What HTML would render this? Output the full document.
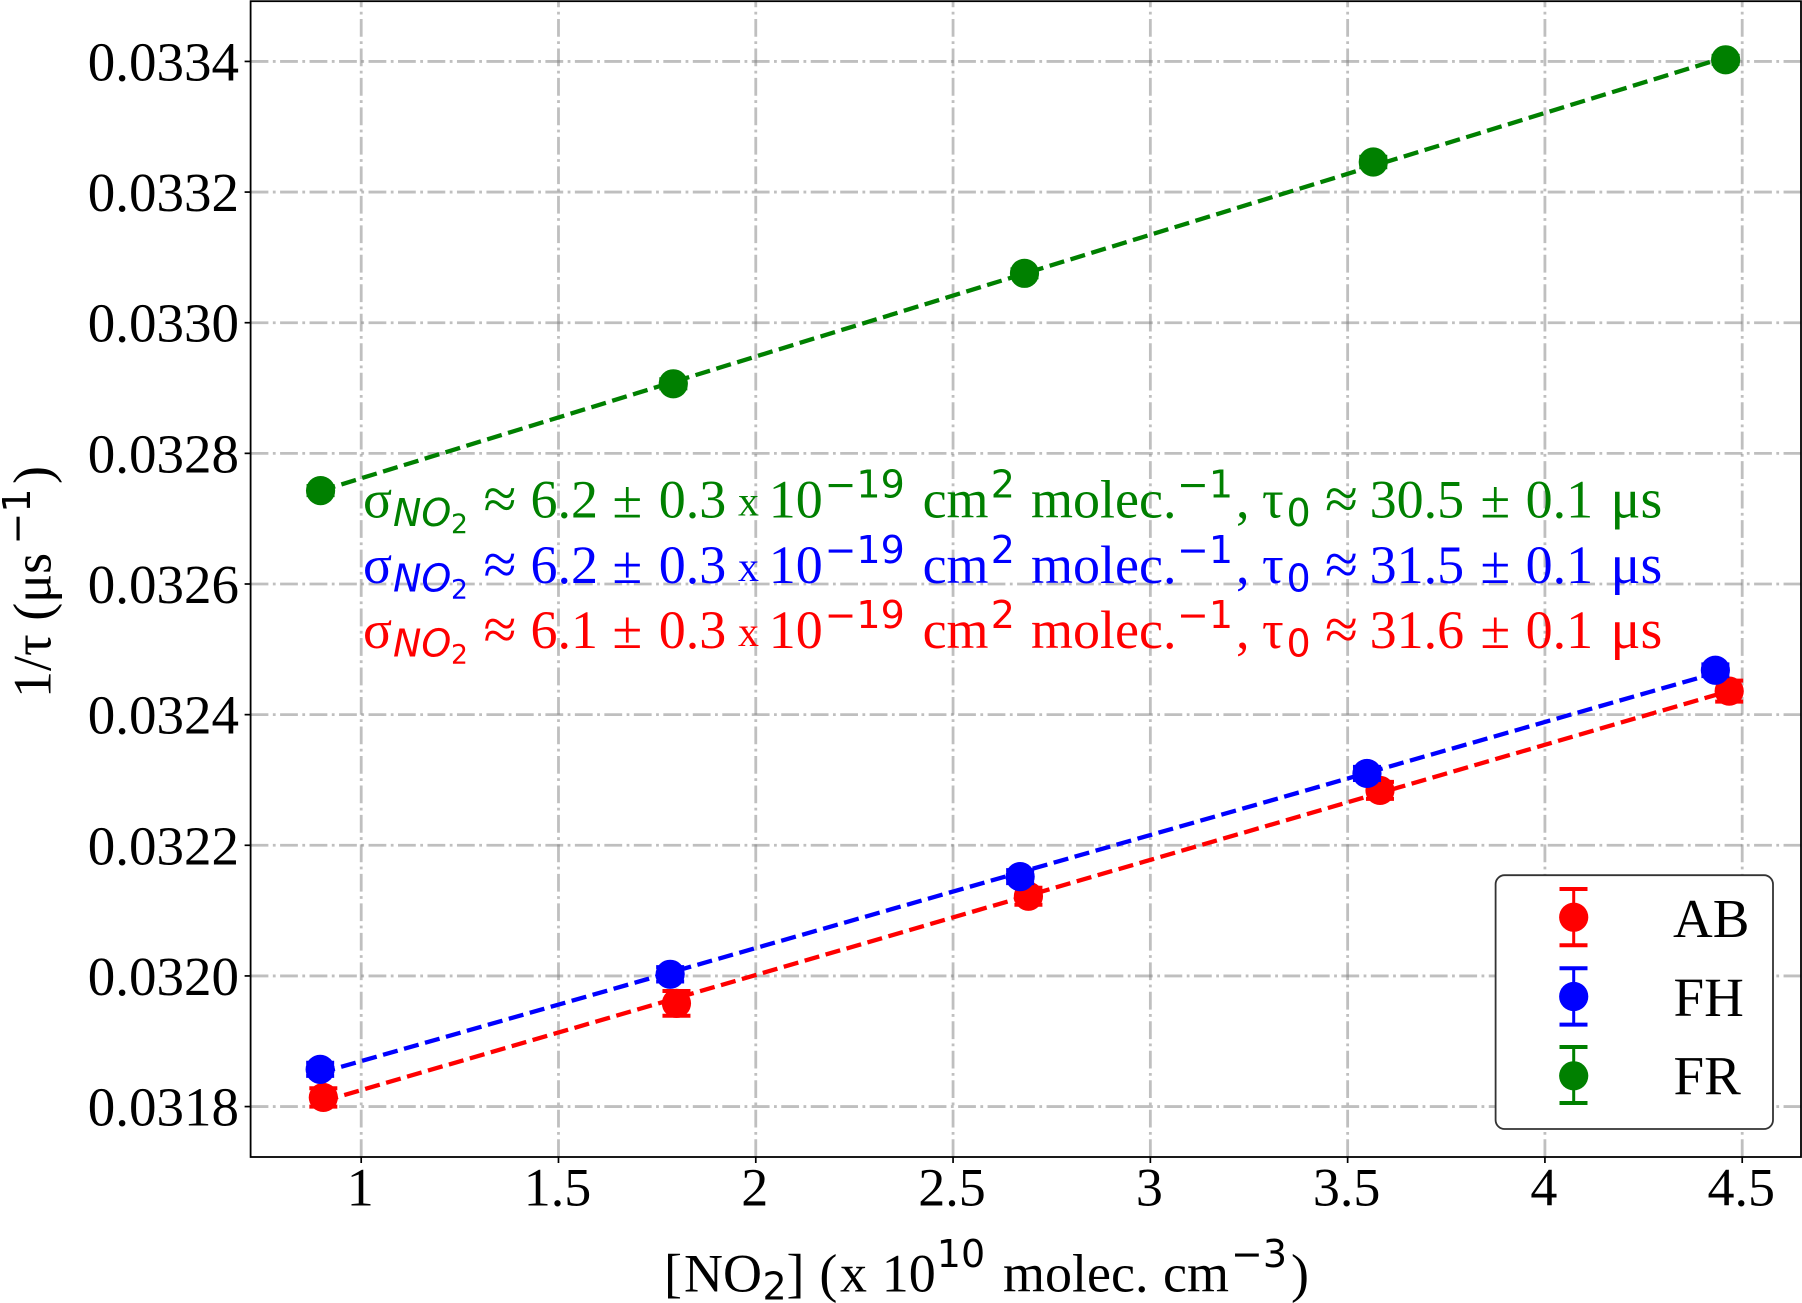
<!DOCTYPE html>
<html lang="en">
<head>
<meta charset="utf-8">
<title>1/tau versus NO2 concentration</title>
<style>
html,body{margin:0;padding:0;background:#fff;}
#chart{display:block;position:absolute;left:0;top:0;}
text{font-family:"Liberation Serif",serif;}
.dj{font-family:"DejaVu Sans",sans-serif;}
</style>
</head>
<body>
<svg id="chart" xmlns="http://www.w3.org/2000/svg" width="1802" height="1303" viewBox="0 0 1802 1303">
  <rect x="0" y="0" width="1802" height="1303" fill="#fff"/>
  <g id="grid"></g>
  <g id="series"></g>
  <g id="annotations" font-size="54">
    <text fill="#008000">
      <tspan x="363" y="517.5">σ</tspan><tspan class="dj" font-style="italic" font-size="38" x="393" y="526">NO</tspan><tspan class="dj" font-size="26.6" x="451" y="533">2</tspan><tspan font-size="60" x="483.5" y="519">≈</tspan><tspan x="530.5" y="517.5">6.2</tspan><tspan x="612.5" y="517.5">±</tspan><tspan x="658.7" y="517.5">0.3</tspan><tspan font-size="42" x="738" y="515.5">x</tspan><tspan x="768.8" y="517.5">10</tspan><tspan class="dj" font-size="38" x="824.6" y="497.5">−19</tspan><tspan x="922.6" y="517.5">cm</tspan><tspan class="dj" font-size="38" x="990.7" y="497.5">2</tspan><tspan x="1031" y="517.5">molec.</tspan><tspan class="dj" font-size="38" x="1177" y="497.5">−1</tspan><tspan x="1236" y="517.5">,</tspan><tspan x="1262" y="517.5">τ</tspan><tspan class="dj" font-size="38" x="1286.5" y="526">0</tspan><tspan font-size="60" x="1325" y="519">≈</tspan><tspan x="1369.6" y="517.5">30.5</tspan><tspan x="1480.5" y="517.5">±</tspan><tspan x="1525.6" y="517.5">0.1</tspan><tspan font-size="56" x="1610.5" y="517.5">μs</tspan>
    </text>
    <text fill="#0000ff">
      <tspan x="363" y="582.8">σ</tspan><tspan class="dj" font-style="italic" font-size="38" x="393" y="591.3">NO</tspan><tspan class="dj" font-size="26.6" x="451" y="598.3">2</tspan><tspan font-size="60" x="483.5" y="584.3">≈</tspan><tspan x="530.5" y="582.8">6.2</tspan><tspan x="612.5" y="582.8">±</tspan><tspan x="658.7" y="582.8">0.3</tspan><tspan font-size="42" x="738" y="580.8">x</tspan><tspan x="768.8" y="582.8">10</tspan><tspan class="dj" font-size="38" x="824.6" y="562.8">−19</tspan><tspan x="922.6" y="582.8">cm</tspan><tspan class="dj" font-size="38" x="990.7" y="562.8">2</tspan><tspan x="1031" y="582.8">molec.</tspan><tspan class="dj" font-size="38" x="1177" y="562.8">−1</tspan><tspan x="1236" y="582.8">,</tspan><tspan x="1262" y="582.8">τ</tspan><tspan class="dj" font-size="38" x="1286.5" y="591.3">0</tspan><tspan font-size="60" x="1325" y="584.3">≈</tspan><tspan x="1369.6" y="582.8">31.5</tspan><tspan x="1480.5" y="582.8">±</tspan><tspan x="1525.6" y="582.8">0.1</tspan><tspan font-size="56" x="1610.5" y="582.8">μs</tspan>
    </text>
    <text fill="#ff0000">
      <tspan x="363" y="648.1">σ</tspan><tspan class="dj" font-style="italic" font-size="38" x="393" y="656.6">NO</tspan><tspan class="dj" font-size="26.6" x="451" y="663.6">2</tspan><tspan font-size="60" x="483.5" y="649.6">≈</tspan><tspan x="530.5" y="648.1">6.1</tspan><tspan x="612.5" y="648.1">±</tspan><tspan x="658.7" y="648.1">0.3</tspan><tspan font-size="42" x="738" y="646.1">x</tspan><tspan x="768.8" y="648.1">10</tspan><tspan class="dj" font-size="38" x="824.6" y="628.1">−19</tspan><tspan x="922.6" y="648.1">cm</tspan><tspan class="dj" font-size="38" x="990.7" y="628.1">2</tspan><tspan x="1031" y="648.1">molec.</tspan><tspan class="dj" font-size="38" x="1177" y="628.1">−1</tspan><tspan x="1236" y="648.1">,</tspan><tspan x="1262" y="648.1">τ</tspan><tspan class="dj" font-size="38" x="1286.5" y="656.6">0</tspan><tspan font-size="60" x="1325" y="649.6">≈</tspan><tspan x="1369.6" y="648.1">31.6</tspan><tspan x="1480.5" y="648.1">±</tspan><tspan x="1525.6" y="648.1">0.1</tspan><tspan font-size="56" x="1610.5" y="648.1">μs</tspan>
    </text>
  </g>
  <g id="axes"></g>
  <text font-size="54" fill="#000">
    <tspan x="664" y="1291.4">[</tspan><tspan x="684" y="1291.4">NO</tspan><tspan class="dj" font-size="38" x="762.5" y="1299.4">2</tspan><tspan x="786.5" y="1291.4">]</tspan><tspan x="819.4" y="1291.4">(</tspan><tspan x="840" y="1291.4">x</tspan><tspan x="881.8" y="1291.4">10</tspan><tspan class="dj" font-size="38" x="936.8" y="1267">10</tspan><tspan x="1003" y="1291.4">molec.</tspan><tspan x="1163" y="1291.4">cm</tspan><tspan class="dj" font-size="38" x="1231" y="1267">−3</tspan><tspan x="1291" y="1291.4">)</tspan>
  </text>
  <g fill="#000">
    <text font-size="54" transform="translate(50.7,698) rotate(-90)">1/τ (μs</text>
    <text class="dj" font-size="38" transform="translate(30,544.5) rotate(-90)">−1</text>
    <text font-size="54" transform="translate(50.7,484) rotate(-90)">)</text>
  </g>
  <g id="legend">
    <rect x="1495.6" y="875.2" width="277.4" height="253.8" rx="9" ry="9" fill="#fff" stroke="#333" stroke-width="1.8"/>
    <g fill="#ff0000" stroke="#ff0000">
      <line x1="1573.7" x2="1573.7" y1="889" y2="945.3" stroke-width="3"/><line x1="1559.5" x2="1587.5" y1="889" y2="889" stroke-width="4"/><line x1="1559.5" x2="1587.5" y1="945.3" y2="945.3" stroke-width="4"/><circle cx="1573.7" cy="917.2" r="14.6" stroke="none"/>
      <text x="1673" y="937" font-size="55" fill="#000" stroke="none">AB</text>
    </g>
    <g fill="#0000ff" stroke="#0000ff">
      <line x1="1573.7" x2="1573.7" y1="968.3" y2="1024.6" stroke-width="3"/><line x1="1559.5" x2="1587.5" y1="968.3" y2="968.3" stroke-width="4"/><line x1="1559.5" x2="1587.5" y1="1024.6" y2="1024.6" stroke-width="4"/><circle cx="1573.7" cy="996.5" r="14.6" stroke="none"/>
      <text x="1673.5" y="1016" font-size="55" fill="#000" stroke="none">FH</text>
    </g>
    <g fill="#008000" stroke="#008000">
      <line x1="1573.7" x2="1573.7" y1="1047" y2="1103" stroke-width="3"/><line x1="1559.5" x2="1587.5" y1="1047" y2="1047" stroke-width="4"/><line x1="1559.5" x2="1587.5" y1="1103" y2="1103" stroke-width="4"/><circle cx="1573.7" cy="1075.8" r="14.6" stroke="none"/>
      <text x="1673.5" y="1094.5" font-size="55" fill="#000" stroke="none">FR</text>
    </g>
  </g>
</svg>
<script>
// ---- chart data ----
var xTicks = [1, 1.5, 2, 2.5, 3, 3.5, 4, 4.5];
var xTickLabels = ['1', '1.5', '2', '2.5', '3', '3.5', '4', '4.5'];
var yTicks = [0.0318, 0.0320, 0.0322, 0.0324, 0.0326, 0.0328, 0.0330, 0.0332, 0.0334];
var yTickLabels = ['0.0318', '0.0320', '0.0322', '0.0324', '0.0326', '0.0328', '0.0330', '0.0332', '0.0334'];
var seriesNames = ['ab', 'fh', 'fr'];
var abX = [0.904, 1.799, 2.691, 3.582, 4.467];
var abY = [0.031814, 0.031958, 0.032122, 0.032284, 0.032436];
var abErr = [0.000014, 0.000019, 0.000013, 0.000013, 0.000016];
var fhX = [0.896, 1.783, 2.670, 3.549, 4.432];
var fhY = [0.031857, 0.0320025, 0.032152, 0.032310, 0.032468];
var fhErr = [0.000010, 0.000011, 0.000010, 0.000010, 0.000009];
var frX = [0.897, 1.791, 2.681, 3.565, 4.458];
var frY = [0.032743, 0.0329065, 0.0330756, 0.033246, 0.0334025];
var frErr = [0.000007, 0.000007, 0.000006, 0.000008, 0.000006];
var xDomain = [0.7197, 4.6490];
var yDomain = [0.0317228, 0.0334922];

var PLOT_LEFT = 250.6, PLOT_RIGHT = 1801, PLOT_TOP = 1.2, PLOT_BOTTOM = 1157;
var SVG_NS = 'http://www.w3.org/2000/svg';
var seriesColors = {ab: '#ff0000', fh: '#0000ff', fr: '#008000'};
var seriesData = {
  ab: [abX, abY, abErr],
  fh: [fhX, fhY, fhErr],
  fr: [frX, frY, frErr]
};

function sx(v) {
  return PLOT_LEFT + (v - xDomain[0]) / (xDomain[1] - xDomain[0]) * (PLOT_RIGHT - PLOT_LEFT);
}
function sy(v) {
  return PLOT_BOTTOM - (v - yDomain[0]) / (yDomain[1] - yDomain[0]) * (PLOT_BOTTOM - PLOT_TOP);
}
function make(tag, parent, attrs) {
  var el = document.createElementNS(SVG_NS, tag);
  for (var k in attrs) { el.setAttribute(k, attrs[k]); }
  parent.appendChild(el);
  return el;
}
function leastSquares(xs, ys) {
  var n = xs.length, mx = 0, my = 0, num = 0, den = 0;
  for (var i = 0; i < n; i++) { mx += xs[i] / n; my += ys[i] / n; }
  for (var j = 0; j < n; j++) { num += (xs[j] - mx) * (ys[j] - my); den += (xs[j] - mx) * (xs[j] - mx); }
  var m = num / den;
  return function (x) { return my + m * (x - mx); };
}

var gridG = document.getElementById('grid');
var axesG = document.getElementById('axes');
var seriesG = document.getElementById('series');
var gridStyle = {stroke: '#808080', 'stroke-opacity': 0.5, 'stroke-width': 2.8, fill: 'none', 'stroke-dasharray': '17.8 4.45 2.78 4.45'};

xTicks.forEach(function (t, i) {
  var gl = make('line', gridG, Object.assign({x1: sx(t), x2: sx(t), y1: PLOT_BOTTOM, y2: PLOT_TOP}, gridStyle));
  
  
  var tk = make('line', axesG, {x1: sx(t), x2: sx(t), y1: PLOT_BOTTOM, y2: PLOT_BOTTOM + 6, stroke: '#000', 'stroke-width': 1.7});
  
  
  var lb = make('text', axesG, {x: sx(t) - 1, y: 1205.4, 'text-anchor': 'middle', 'font-size': 54, fill: '#000'});
  lb.textContent = xTickLabels[i];
  
  
});

yTicks.forEach(function (t, i) {
  var gl = make('line', gridG, Object.assign({x1: PLOT_LEFT, x2: PLOT_RIGHT, y1: sy(t), y2: sy(t)}, gridStyle));
  
  
  var tk = make('line', axesG, {x1: PLOT_LEFT - 6, x2: PLOT_LEFT, y1: sy(t), y2: sy(t), stroke: '#000', 'stroke-width': 1.7});
  
  
  var lb = make('text', axesG, {x: 239, y: sy(t) + 19, 'text-anchor': 'end', 'font-size': 55, fill: '#000'});
  lb.textContent = yTickLabels[i];
  
  
});

var frame = make('rect', axesG, {x: PLOT_LEFT, y: PLOT_TOP, width: PLOT_RIGHT - PLOT_LEFT, height: PLOT_BOTTOM - PLOT_TOP, fill: 'none', stroke: '#000', 'stroke-width': 1.8});



seriesNames.forEach(function (name) {
  var xs = seriesData[name][0], ys = seriesData[name][1], es = seriesData[name][2];
  var color = seriesColors[name];
  var fit = leastSquares(xs, ys);
  var x0 = xs[0], x1 = xs[xs.length - 1];
  var group = make('g', seriesG, {});
  
  
  var line = make('line', group, {x1: sx(x0), y1: sy(fit(x0)), x2: sx(x1), y2: sy(fit(x1)), stroke: color, 'stroke-width': 4.3, 'stroke-dasharray': '15.2 6.6', fill: 'none'});
  
  
  xs.forEach(function (x, i) {
    var px = sx(x), py = sy(ys[i]), up = sy(ys[i] + es[i]), dn = sy(ys[i] - es[i]);
    var stem = make('line', group, {x1: px, x2: px, y1: up, y2: dn, stroke: color, 'stroke-width': 3});
    
    
    var capA = make('line', group, {x1: px - 14, x2: px + 14, y1: up, y2: up, stroke: color, 'stroke-width': 4});
    
    
    var capB = make('line', group, {x1: px - 14, x2: px + 14, y1: dn, y2: dn, stroke: color, 'stroke-width': 4});
    
    
    var dot = make('circle', group, {cx: px, cy: py, r: 14.6, fill: color});
    
    
  });
});
</script>
</body>
</html>
